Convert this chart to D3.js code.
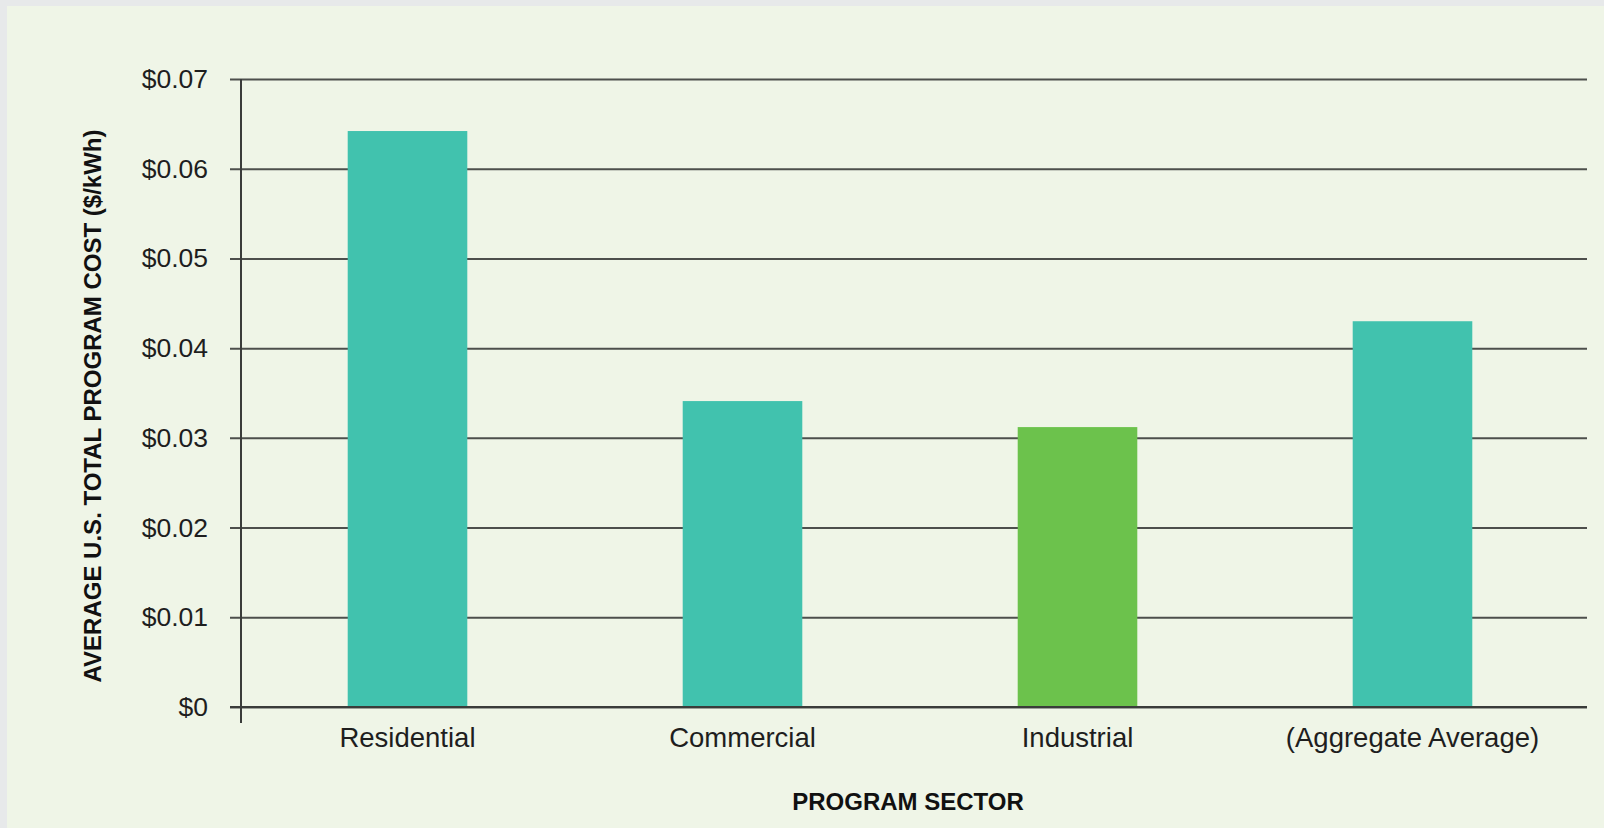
<!DOCTYPE html>
<html>
<head>
<meta charset="utf-8">
<script src="https://cdn.jsdelivr.net/npm/d3@7"></script>
<style>
    body { margin: 0; background: #e7e9ea; }
    #chart { position: absolute; left: 0; top: 0; }
</style>
</head>
<body>
<div id="chart"></div>
<script>
// Chart data
const sectors = ["Residential", "Commercial", "Industrial", "(Aggregate Average)"];
const costs = [0.0642, 0.0341, 0.0312, 0.0430];
const barColors = ["#41c2ae", "#41c2ae", "#6cc24c", "#41c2ae"];
const yTicks = [0, 0.01, 0.02, 0.03, 0.04, 0.05, 0.06, 0.07];

const width = 1604;
const height = 828;
const margin = { top: 79, right: 17, bottom: 121, left: 241 };

const svg = d3.select("#chart")
    .append("svg")
    .attr("width", width)
    .attr("height", height);

// Light panel behind the chart
svg.append("rect")
    .attr("x", 7)
    .attr("y", 6)
    .attr("width", width - 7)
    .attr("height", height - 6)
    .attr("fill", "#eff5e7");

// Bars sit a bit left of an even split of the gridline span
const x = d3.scaleBand()
    .domain(sectors)
    .range([margin.left - 1, 1580])
    .paddingInner(0.643)
    .paddingOuter(0.3215);

const y = d3.scaleLinear()
    .domain([0, 0.07])
    .range([height - margin.bottom, margin.top]);

// Gridlines with ticks (drawn under the bars)
const yAxis = d3.axisLeft(y)
    .tickValues(yTicks)
    .tickSize(-(width - margin.right - margin.left))
    .tickFormat(d => d === 0 ? "$0" : "$" + d3.format(".2f")(d));

const gy = svg.append("g")
    .attr("transform", `translate(${margin.left},0)`)
    .call(yAxis);

gy.select(".domain").remove();
gy.selectAll(".tick line")
    .attr("x1", -11)
    .attr("stroke", "#4d4f4c")
    .attr("stroke-width", 2);
gy.selectAll(".tick text")
    .attr("x", -33)
    .attr("fill", "#1e1e1e")
    .style("font-family", "Liberation Sans, Arial, sans-serif")
    .style("font-size", "26.5px");

// Bars
svg.append("g")
    .selectAll("rect")
    .data(sectors)
    .enter()
    .append("rect")
    .attr("x", d => x(d))
    .attr("y", (d, i) => y(costs[i]))
    .attr("width", x.bandwidth())
    .attr("height", (d, i) => y(0) - y(costs[i]))
    .attr("fill", (d, i) => barColors[i]);

// Baseline on top of the bars
svg.append("line")
    .attr("x1", margin.left - 11)
    .attr("x2", width - margin.right)
    .attr("y1", y(0))
    .attr("y2", y(0))
    .attr("stroke", "#3a3c3a")
    .attr("stroke-width", 2);

// Vertical axis line, running a little past zero
svg.append("line")
    .attr("x1", margin.left)
    .attr("x2", margin.left)
    .attr("y1", y(0.07))
    .attr("y2", y(0) + 16)
    .attr("stroke", "#3a3c3a")
    .attr("stroke-width", 2);

// Category labels
svg.append("g")
    .selectAll("text")
    .data(sectors)
    .enter()
    .append("text")
    .attr("x", d => x(d) + x.bandwidth() / 2)
    .attr("y", y(0) + 40)
    .attr("text-anchor", "middle")
    .attr("fill", "#1e1e1e")
    .style("font-family", "Liberation Sans, Arial, sans-serif")
    .style("font-size", "27.5px")
    .text(d => d);

// Axis titles
svg.append("text")
    .attr("x", (margin.left + width - margin.right) / 2 - 6)
    .attr("y", 810)
    .attr("text-anchor", "middle")
    .attr("fill", "#111")
    .style("font-family", "Liberation Sans, Arial, sans-serif")
    .style("font-size", "24px")
    .style("font-weight", "bold")
    .text("PROGRAM SECTOR");

svg.append("text")
    .attr("transform", `translate(101,${(y(0) + y(0.07)) / 2 + 13}) rotate(-90)`)
    .attr("text-anchor", "middle")
    .attr("fill", "#111")
    .style("font-family", "Liberation Sans, Arial, sans-serif")
    .style("font-size", "24px")
    .style("font-weight", "bold")
    .text("AVERAGE U.S. TOTAL PROGRAM COST ($/kWh)");
</script>
</body>
</html>
